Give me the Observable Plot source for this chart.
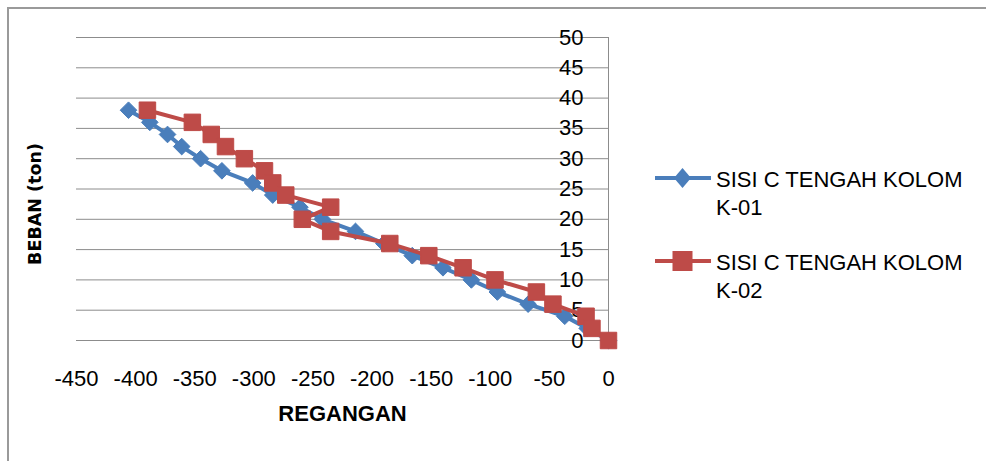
<!DOCTYPE html>
<html>
<head>
<meta charset="utf-8">
<script src="https://cdn.jsdelivr.net/npm/d3@7"></script>
<script src="https://cdn.jsdelivr.net/npm/@observablehq/plot@0.6"></script>
<style>
  html, body { margin: 0; padding: 0; background: #fff; }
  #wrap { position: relative; width: 986px; height: 461px; overflow: hidden; font-family: "Liberation Sans", Arial, sans-serif; }
  #frame { position: absolute; left: 7px; top: 7px; right: -5px; bottom: -5px; border-left: 2px solid #9a9a9a; border-top: 2px solid #9a9a9a; pointer-events: none; }
  #chart { position: absolute; left: 0; top: 0; }
  .leg { position: absolute; left: 655px; font-size: 22px; color: #000; line-height: 27px; font-family: "Liberation Sans", Arial, sans-serif; }
  .leg svg { position: absolute; left: 0; top: 1px; }
  .leg span { position: absolute; left: 61px; white-space: nowrap; }
</style>
</head>
<body>
<div id="wrap">
  <div id="chart"></div>
  <div id="frame"></div>
</div>
<script>
const seriesNames = ["SISI C TENGAH KOLOM K-01", "SISI C TENGAH KOLOM K-02"];
const legendLines = [["SISI C TENGAH KOLOM", "K-01"], ["SISI C TENGAH KOLOM", "K-02"]];
const colors = ["#4A7EBB", "#BE4B48"];

// K-01 (blue diamonds)
const strainK01 = [-406, -388, -373, -361, -345, -327, -301, -284, -261, -242, -214, -190, -166, -140, -116, -94, -68, -37, -18, 0];
const loadK01   = [38, 36, 34, 32, 30, 28, 26, 24, 22, 20, 18, 16, 14, 12, 10, 8, 6, 4, 2, 0];

// K-02 (red squares)
const strainK02 = [-390, -352, -336, -324, -308, -291, -284, -273, -235, -259, -235, -185, -152, -123, -96, -61, -47, -19, -14, 0];
const loadK02   = [38, 36, 34, 32, 30, 28, 26, 24, 22, 20, 18, 16, 14, 12, 10, 8, 6, 4, 2, 0];

const xTicks = [-450, -400, -350, -300, -250, -200, -150, -100, -50, 0];
const yTicks = [0, 5, 10, 15, 20, 25, 30, 35, 40, 45, 50];

const k01 = strainK01.map((x, i) => ({x, y: loadK01[i], s: seriesNames[0]}));
const k02 = strainK02.map((x, i) => ({x, y: loadK02[i], s: seriesNames[1]}));

const font = '"Liberation Sans", Arial, sans-serif';

const plot = Plot.plot({
  width: 986,
  height: 461,
  marginLeft: 76,
  marginRight: 378,
  marginTop: 37,
  marginBottom: 121,
  style: {fontFamily: font, fontSize: "22px", color: "#000", background: "transparent", overflow: "visible"},
  x: {domain: [-450, 0], ticks: xTicks, tickFormat: d => String(d), label: null},
  y: {domain: [0, 50], ticks: yTicks, tickFormat: d => String(d), label: null},
  marks: [
    Plot.gridY(yTicks, {stroke: "#8c8c8c", strokeOpacity: 1, strokeWidth: 1}),
    Plot.ruleX([0], {y1: 0, y2: 50, stroke: "#8c8c8c", strokeWidth: 1}),
    Plot.axisX({ticks: xTicks, tickSize: 0, tickPadding: 30, tickFormat: d => String(d), fontSize: 22, label: null}),
    Plot.axisY({anchor: "left", ticks: yTicks, tickSize: 0, tickPadding: 0, dx: 507, fontSize: 22, tickFormat: d => String(d), label: null}),
    Plot.line(k01, {x: "x", y: "y", stroke: colors[0], strokeWidth: 4}),
    Plot.dot(k01, {x: "x", y: "y", symbol: "diamond2", r: 7.5, fill: colors[0], stroke: colors[0], strokeWidth: 1}),
    Plot.line(k02, {x: "x", y: "y", stroke: colors[1], strokeWidth: 4}),
    Plot.dot(k02, {x: "x", y: "y", symbol: "square2", r: 10.5, fill: colors[1], stroke: colors[1], strokeWidth: 1}),
    Plot.text(["REGANGAN"], {frameAnchor: "bottom", dy: 80, text: d => d, fontSize: 22, fontWeight: "bold", fontFamily: font}),
    Plot.text(["BEBAN (ton)"], {frameAnchor: "left", textAnchor: "middle", dx: -41, dy: 15, rotate: -90, text: d => d, fontSize: 17.5, fontWeight: "bold", fontFamily: "DejaVu Sans, Verdana, sans-serif"})
  ]
});
document.getElementById("chart").appendChild(plot);

// legend
const wrap = document.getElementById("wrap");
const legTops = [166, 249];
legendLines.forEach((lines, i) => {
  const div = document.createElement("div");
  div.className = "leg";
  div.style.top = legTops[i] + "px";
  const sym = i === 0
    ? `<polygon points="27.5,1 36,11 27.5,21 19,11" fill="${colors[0]}"/>`
    : `<rect x="17.5" y="1" width="20" height="20" fill="${colors[1]}"/>`;
  div.innerHTML = `<svg width="60" height="22"><line x1="0" y1="11" x2="56" y2="11" stroke="${colors[i]}" stroke-width="4"/>${sym}</svg>` +
    `<span style="top:0px">${lines[0]}</span><span style="top:28px">${lines[1]}</span>`;
  wrap.appendChild(div);
});
</script>
</body>
</html>
